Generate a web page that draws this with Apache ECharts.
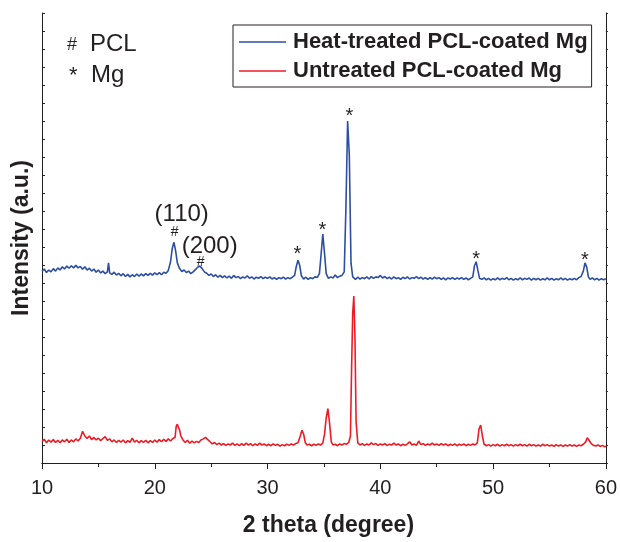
<!DOCTYPE html>
<html>
<head>
<meta charset="utf-8">
<script src="https://cdn.jsdelivr.net/npm/echarts@6/dist/echarts.min.js"></script>
<style>
  html, body { margin: 0; padding: 0; background: #fff; }
  #chart { width: 620px; height: 542px; }
</style>
</head>
<body>
<div id="chart"></div>
<script>
// XRD patterns, [2 theta, intensity]
var heatTreated = [
    [10.0,1064],[10.2,1078],[10.4,1058],[10.6,1072],[10.8,1062],[11.0,1080],[11.2,1066],[11.4,1084],[11.6,1072],[11.8,1090],
    [12.0,1078],[12.2,1094],[12.4,1082],[12.6,1096],[12.8,1084],[13.0,1098],[13.2,1084],[13.4,1092],[13.6,1076],[13.8,1090],
    [14.0,1072],[14.2,1082],[14.4,1066],[14.6,1078],[14.8,1060],[15.0,1072],[15.2,1056],[15.4,1066],[15.6,1052],[15.8,1062],
    [15.9,1112],[16.0,1056],[16.2,1048],[16.4,1060],[16.6,1044],[16.8,1054],[17.0,1040],[17.2,1052],[17.4,1036],[17.6,1048],
    [17.8,1034],[18.0,1046],[18.2,1036],[18.4,1050],[18.6,1038],[18.8,1050],[19.0,1040],[19.2,1052],[19.4,1042],[19.6,1054],
    [19.8,1044],[20.0,1056],[20.2,1046],[20.4,1058],[20.6,1046],[20.8,1060],[21.0,1054],[21.2,1070],[21.4,1118],[21.55,1192],
    [21.7,1226],[21.85,1178],[22.0,1112],[22.2,1080],[22.4,1064],[22.6,1072],[22.8,1058],[23.0,1066],[23.2,1052],[23.4,1062],
    [23.6,1074],[23.8,1088],[24.0,1094],[24.2,1080],[24.4,1062],[24.6,1054],[24.8,1042],[25.0,1050],[25.2,1036],[25.4,1046],
    [25.6,1032],[25.8,1042],[26.0,1030],[26.2,1040],[26.4,1028],[26.6,1038],[26.8,1026],[27.0,1042],[27.2,1030],[27.4,1036],
    [27.6,1024],[27.8,1034],[28.0,1028],[28.2,1040],[28.4,1026],[28.6,1034],[28.8,1022],[29.0,1032],[29.2,1026],[29.4,1036],
    [29.6,1024],[29.8,1032],[30.0,1026],[30.2,1034],[30.4,1022],[30.6,1030],[30.8,1020],[31.0,1030],[31.2,1024],[31.4,1032],
    [31.6,1022],[31.8,1030],[32.0,1024],[32.2,1032],[32.4,1042],[32.55,1092],[32.7,1126],[32.85,1098],[33.0,1040],[33.2,1022],
    [33.4,1032],[33.6,1020],[33.8,1030],[34.0,1024],[34.2,1034],[34.4,1030],[34.6,1052],[34.75,1160],[34.9,1272],[35.05,1166],
    [35.2,1052],[35.4,1026],[35.6,1034],[35.8,1028],[36.0,1044],[36.2,1030],[36.4,1038],[36.6,1042],[36.8,1062],[36.95,1420],
    [37.1,1900],[37.25,1710],[37.4,1110],[37.55,1034],[37.8,1020],[38.0,1032],[38.2,1022],[38.4,1030],[38.6,1024],[38.8,1034],
    [39.0,1022],[39.2,1036],[39.4,1026],[39.6,1034],[39.8,1030],[40.0,1042],[40.2,1028],[40.4,1036],[40.6,1024],[40.8,1032],
    [41.0,1022],[41.2,1034],[41.4,1024],[41.6,1030],[41.8,1020],[42.0,1032],[42.2,1024],[42.4,1034],[42.6,1022],[42.8,1030],
    [43.0,1026],[43.2,1036],[43.4,1024],[43.6,1032],[43.8,1022],[44.0,1030],[44.2,1020],[44.4,1030],[44.6,1022],[44.8,1032],
    [45.0,1024],[45.2,1030],[45.4,1020],[45.6,1028],[45.8,1018],[46.0,1028],[46.2,1022],[46.4,1030],[46.6,1020],[46.8,1028],
    [47.0,1022],[47.2,1030],[47.4,1020],[47.6,1028],[47.8,1018],[48.0,1026],[48.2,1034],[48.35,1096],[48.5,1118],[48.65,1070],
    [48.8,1026],[49.0,1020],[49.2,1028],[49.4,1018],[49.6,1026],[49.8,1016],[50.0,1024],[50.2,1018],[50.4,1028],[50.6,1018],
    [50.8,1026],[51.0,1020],[51.2,1030],[51.4,1018],[51.6,1026],[51.8,1016],[52.0,1024],[52.2,1018],[52.4,1028],[52.6,1018],
    [52.8,1026],[53.0,1020],[53.2,1028],[53.4,1016],[53.6,1026],[53.8,1018],[54.0,1026],[54.2,1016],[54.4,1024],[54.6,1018],
    [54.8,1028],[55.0,1018],[55.2,1026],[55.4,1016],[55.6,1024],[55.8,1018],[56.0,1028],[56.2,1018],[56.4,1026],[56.6,1016],
    [56.8,1024],[57.0,1018],[57.2,1026],[57.4,1018],[57.6,1030],[57.8,1036],[58.0,1066],[58.15,1112],[58.3,1088],[58.45,1034],
    [58.6,1020],[58.8,1028],[59.0,1018],[59.2,1026],[59.4,1016],[59.6,1024],[59.8,1018],[60.0,1024]
];

var untreated = [
    [10.0,118],[10.2,132],[10.4,112],[10.6,128],[10.8,116],[11.0,130],[11.2,114],[11.4,126],[11.6,112],[11.8,128],
    [12.0,118],[12.2,132],[12.4,114],[12.6,128],[12.8,118],[13.0,134],[13.2,122],[13.4,138],[13.6,176],[13.8,150],
    [14.0,136],[14.2,150],[14.4,130],[14.6,142],[14.8,128],[15.0,138],[15.2,124],[15.4,136],[15.6,146],[15.8,126],
    [16.0,134],[16.2,118],[16.4,128],[16.6,114],[16.8,126],[17.0,116],[17.2,128],[17.4,112],[17.6,124],[17.8,114],
    [18.0,138],[18.2,116],[18.4,126],[18.6,112],[18.8,124],[19.0,114],[19.2,126],[19.4,112],[19.6,124],[19.8,114],
    [20.0,128],[20.2,116],[20.4,130],[20.6,118],[20.8,132],[21.0,120],[21.2,134],[21.4,122],[21.6,136],[21.8,142],
    [21.9,204],[22.0,216],[22.1,196],[22.2,184],[22.3,152],[22.5,128],[22.7,114],[22.9,126],[23.1,110],[23.3,122],
    [23.5,112],[23.7,120],[23.9,114],[24.1,128],[24.3,134],[24.5,142],[24.7,130],[24.9,118],[25.1,106],[25.3,114],
    [25.5,102],[25.7,110],[25.9,100],[26.1,108],[26.3,98],[26.5,106],[26.7,100],[26.9,110],[27.1,98],[27.3,106],
    [27.5,96],[27.7,108],[27.9,98],[28.1,110],[28.3,100],[28.5,108],[28.7,96],[28.9,106],[29.1,98],[29.3,110],
    [29.5,100],[29.7,106],[29.9,96],[30.1,104],[30.3,96],[30.5,106],[30.7,98],[30.9,104],[31.1,94],[31.3,102],
    [31.5,96],[31.7,104],[31.9,98],[32.1,106],[32.3,100],[32.5,108],[32.7,112],[32.9,150],[33.05,182],[33.2,160],
    [33.35,112],[33.5,100],[33.7,104],[33.9,96],[34.1,104],[34.3,98],[34.5,106],[34.7,100],[34.9,110],[35.05,160],
    [35.2,250],[35.35,302],[35.5,220],[35.65,118],[35.8,100],[36.0,104],[36.2,96],[36.4,106],[36.6,100],[36.8,108],
    [37.0,104],[37.2,114],[37.35,150],[37.45,520],[37.55,830],[37.65,928],[37.75,700],[37.85,230],[38.0,112],[38.2,100],
    [38.4,108],[38.6,98],[38.8,106],[39.0,100],[39.2,112],[39.4,102],[39.6,108],[39.8,98],[40.0,106],[40.2,100],
    [40.4,108],[40.6,98],[40.8,104],[41.0,100],[41.2,110],[41.4,100],[41.6,106],[41.8,96],[42.0,104],[42.2,98],
    [42.4,106],[42.6,118],[42.8,100],[43.0,106],[43.2,98],[43.4,122],[43.6,102],[43.8,108],[44.0,98],[44.2,106],
    [44.4,100],[44.6,110],[44.8,100],[45.0,106],[45.2,98],[45.4,108],[45.6,100],[45.8,106],[46.0,96],[46.2,104],
    [46.4,98],[46.6,106],[46.8,96],[47.0,104],[47.2,98],[47.4,106],[47.6,96],[47.8,104],[48.0,98],[48.2,106],
    [48.4,100],[48.6,112],[48.75,190],[48.9,210],[49.05,150],[49.2,104],[49.4,96],[49.6,102],[49.8,94],[50.0,102],
    [50.2,96],[50.4,104],[50.6,94],[50.8,102],[51.0,96],[51.2,104],[51.4,96],[51.6,102],[51.8,94],[52.0,102],
    [52.2,96],[52.4,104],[52.6,96],[52.8,102],[53.0,94],[53.2,104],[53.4,96],[53.6,102],[53.8,94],[54.0,100],
    [54.2,94],[54.4,104],[54.6,96],[54.8,102],[55.0,94],[55.2,100],[55.4,92],[55.6,102],[55.8,94],[56.0,100],
    [56.2,92],[56.4,100],[56.6,94],[56.8,102],[57.0,94],[57.2,100],[57.4,92],[57.6,100],[57.8,96],[58.0,104],
    [58.2,116],[58.35,140],[58.5,130],[58.7,108],[58.9,98],[59.1,94],[59.3,100],[59.5,92],[59.7,98],[59.9,90],
    [60.0,94]
];

// peak annotations: [2 theta, intensity, text]
var hklLabels = [[22.39, 1383, '(110)'], [24.87, 1206, '(200)']];
var pclMarks = [[21.77, 1283, '#'], [24.07, 1115, '#']];
var mgMarks = [[32.65, 1161, '*'], [34.87, 1294, '*'], [37.26, 1925, '*'], [48.5, 1128, '*'], [58.14, 1123, '*']];

var seriesNames = ['Heat-treated PCL-coated Mg', 'Untreated PCL-coated Mg'];
var xTicks = [10, 20, 30, 40, 50, 60];

var font = '"Liberation Sans", Arial, sans-serif';
var ink = '#231f20';
var blue = '#2c4fa3';
var red = '#ec1c24';

var myChart = echarts.init(document.getElementById('chart'), null, { renderer: 'canvas' });

function labelSeries(data, size) {
    return {
        type: 'scatter',
        data: data,
        symbolSize: 0,
        silent: true,
        xAxisIndex: 0,
        yAxisIndex: 0,
        itemStyle: { opacity: 1 },
        label: {
            show: true,
            position: 'inside',
            formatter: function (p) { return p.value[2]; },
            fontFamily: font,
            fontSize: size,
            color: ink,
            opacity: 1
        }
    };
}

// thin bar used as the legend key instead of line+circle
var keyIcon = 'path://M0,0 L47,0 L47,1.6 L0,1.6 Z';

var option = {
    animation: false,
    grid: { left: 42, right: 13, top: 13, bottom: 77, containLabel: false },
    legend: {
        data: [{ name: seriesNames[0], icon: keyIcon }, { name: seriesNames[1], icon: keyIcon }],
        orient: 'vertical',
        left: 233,
        top: 25,
        padding: [6, 4, 5, 6],
        itemGap: 7,
        itemWidth: 47,
        itemHeight: 14,
        borderColor: ink,
        borderWidth: 1,
        textStyle: { fontFamily: font, fontSize: 22, fontWeight: 'bold', color: ink, padding: [0, 0, 0, 2] }
    },
    xAxis: [{
        type: 'value',
        min: 10,
        max: 60,
        interval: 10,
        position: 'bottom',
        name: '2 theta (degree)',
        nameLocation: 'middle',
        nameGap: 51,
        nameTextStyle: { fontFamily: font, fontSize: 23, fontWeight: 'bold', color: ink, padding: [0, 0, 0, 9] },
        axisLine: { lineStyle: { color: ink, width: 1 } },
        axisTick: { inside: false, length: 6, lineStyle: { color: ink } },
        minorTick: { show: true, splitNumber: 2, length: 4, lineStyle: { color: ink } },
        axisLabel: {
            margin: 15,
            fontFamily: font,
            fontSize: 20,
            color: ink,
            formatter: function (v) { return xTicks.indexOf(v) >= 0 ? String(v) : ''; }
        },
        splitLine: { show: false }
    }, {
        type: 'value',
        min: 10,
        max: 60,
        interval: 5,
        position: 'top',
        axisLine: { lineStyle: { color: ink, width: 1 } },
        axisTick: { inside: true, length: 4, lineStyle: { color: ink } },
        axisLabel: { show: false },
        splitLine: { show: false }
    }],
    yAxis: [{
        type: 'value',
        min: 0,
        max: 2500,
        interval: 100,
        position: 'left',
        name: 'Intensity (a.u.)',
        nameLocation: 'middle',
        nameGap: 9,
        nameTextStyle: { fontFamily: font, fontSize: 23, fontWeight: 'bold', color: ink },
        axisLine: { show: true, lineStyle: { color: ink, width: 1 } },
        axisTick: { show: true, inside: true, length: 3, lineStyle: { color: ink } },
        axisLabel: { show: false },
        splitLine: { show: false }
    }, {
        type: 'value',
        min: 0,
        max: 2500,
        interval: 100,
        position: 'right',
        axisLine: { show: true, lineStyle: { color: ink, width: 1 } },
        axisTick: { show: true, inside: false, length: 2, lineStyle: { color: ink } },
        axisLabel: { show: false },
        splitLine: { show: false }
    }],
    series: [{
        name: seriesNames[0],
        type: 'line',
        data: heatTreated,
        symbol: 'none',
        lineStyle: { color: blue, width: 1.6 },
        itemStyle: { color: blue }
    }, {
        name: seriesNames[1],
        type: 'line',
        data: untreated,
        symbol: 'none',
        lineStyle: { color: red, width: 1.6 },
        itemStyle: { color: red }
    },
        labelSeries(hklLabels, 24),
        labelSeries(pclMarks, 14),
        labelSeries(mgMarks, 20)
    ],
    graphic: [
        { type: 'text', left: 67, top: 36, style: { text: '#', fontFamily: font, fontSize: 18, fill: ink } },
        { type: 'text', left: 90, top: 32, style: { text: 'PCL', fontFamily: font, fontSize: 24, fill: ink } },
        { type: 'text', left: 69, top: 65, style: { text: '*', fontFamily: font, fontSize: 22, fill: ink } },
        { type: 'text', left: 91, top: 63, style: { text: 'Mg', fontFamily: font, fontSize: 24, fill: ink } }
    ]
};

myChart.setOption(option);
</script>
</body>
</html>
